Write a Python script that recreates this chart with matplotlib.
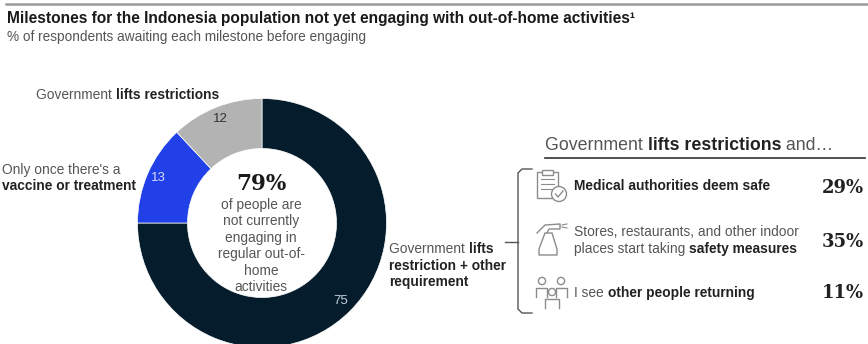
import matplotlib
matplotlib.use('Agg')
import matplotlib.pyplot as plt
from matplotlib.patches import Circle, Rectangle, Polygon

plt.rcParams['font.family'] = ['Liberation Sans', 'DejaVu Sans']

W, H = 868, 344

segments = [75, 13, 12]
segment_labels = ['75', '13', '12']
segment_colors = ['#051c2c', '#2140e8', '#b3b3b3']
center_value = '79%'
center_lines = ['of people are', 'not currently', 'engaging in', 'regular out-of-', 'home', 'activities']
rows = [
    [[('Medical authorities deem safe', True)]],
    [[('Stores, restaurants, and other indoor', False)],
     [('places start taking ', False), ('safety measures', True)]],
    [[('I see ', False), ('other people returning', True)]],
]
row_values = ['29%', '35%', '11%']

GREY = '#555555'
DARK = '#222222'
BODY = 9.9


def Y(y):  # pixel rows counted from the top
    return H - y


def mixed_text(ax, x, y, parts, size, color=DARK):
    # lay out regular and bold runs one after the other on a line
    renderer = ax.figure.canvas.get_renderer()
    for txt, bold in parts:
        t = ax.text(x, Y(y), txt, fontsize=size, va='center', ha='left',
                    color=DARK if bold else color,
                    fontweight='bold' if bold else 'normal')
        x += t.get_window_extent(renderer).width
    return x


def draw_clipboard(ax, c):
    ax.add_patch(Rectangle((537, Y(198)), 21, 26, fill=False, ec=c, lw=1))
    ax.add_patch(Rectangle((542, Y(175)), 11, 5, fc='white', ec=c, lw=1))
    for y in [179, 184, 189]:
        ax.plot([541, 554], [Y(y), Y(y)], color=c, lw=0.8)
    ax.add_patch(Circle((559, Y(194)), 7.5, fc='white', ec=c, lw=1, zorder=3))
    ax.plot([555.5, 558, 563], [Y(194), Y(197), Y(191)], color=c, lw=1, zorder=4)


def draw_spray(ax, c):
    ax.add_patch(Polygon([(545, Y(233)), (552, Y(233)), (557, Y(249)), (557, Y(255)),
                          (539, Y(255)), (539, Y(249))], fill=False, ec=c, lw=1))
    ax.plot([537, 545, 560, 560, 549, 547], [Y(233), Y(225), Y(224), Y(229), Y(229), Y(233)], color=c, lw=1)
    ax.plot([562, 567], [Y(225), Y(224)], color=c, lw=0.8)
    ax.plot([562, 567], [Y(227), Y(228)], color=c, lw=0.8)


def draw_person(ax, cx, cy, left, right, bottom, c):
    # head plus a shoulder outline running down to the given row
    ax.add_patch(Circle((cx, Y(cy)), 3.6, fill=False, ec=c, lw=1))
    ax.plot([left, left, right, right], [Y(bottom), Y(cy + 7), Y(cy + 7), Y(bottom)], color=c, lw=1)


fig = plt.figure(figsize=(W / 100, H / 100), dpi=100)
ax = fig.add_axes([0, 0, 1, 1])

wedges, _ = ax.pie(segments, colors=segment_colors, startangle=90, counterclock=False,
                   radius=124.5, center=(262, Y(223)),
                   wedgeprops=dict(width=50, edgecolor='white', linewidth=0.5))
ax.set_xlim(0, W)
ax.set_ylim(0, H)
ax.set_aspect('auto')
ax.axis('off')

# header
ax.plot([6, W], [Y(4), Y(4)], color='#9a9a9a', lw=1.8)
ax.text(7, Y(19), 'Milestones for the Indonesia population not yet engaging with out-of-home activities¹',
        fontsize=11.2, fontweight='bold', color='#1a1a1a', va='center')
ax.text(7, Y(37), '% of respondents awaiting each milestone before engaging',
        fontsize=9.8, color=GREY, va='center')

# segment values
ax.text(341, Y(301), segment_labels[0], fontsize=9.5, color='#c4d2dc', ha='center', va='center')
ax.text(158, Y(178), segment_labels[1], fontsize=9.5, color='#d5dcff', ha='center', va='center')
ax.text(220, Y(119), segment_labels[2], fontsize=9.5, color='#333333', ha='center', va='center')

# segment callouts
mixed_text(ax, 36, 95, [('Government ', False), ('lifts restrictions', True)], BODY, GREY)
mixed_text(ax, 2, 170, [("Only once there's a", False)], BODY, GREY)
mixed_text(ax, 2, 186, [('vaccine or treatment', True)], BODY)
mixed_text(ax, 389, 249, [('Government ', False), ('lifts', True)], BODY, GREY)
mixed_text(ax, 389, 266, [('restriction + other', True)], BODY)
mixed_text(ax, 389, 282, [('requirement', True)], BODY)

# donut centre
ax.text(261, Y(184), center_value, fontsize=15.5, fontweight='bold', family='DejaVu Serif',
        color='#1a1a1a', ha='center', va='center')
for i, line in enumerate(center_lines):
    ax.text(261, Y(205 + i * 16.4), line, fontsize=BODY, color=GREY, ha='center', va='center')

# right panel
mixed_text(ax, 545, 145, [('Government ', False), ('lifts restrictions', True), (' and…', False)], 12.8, GREY)
ax.plot([545, 865], [Y(158), Y(158)], color='#333333', lw=1.2)

# bracket
bc = '#555555'
ax.plot([532, 522, 518, 518, 522, 532],
        [Y(169), Y(169), Y(173), Y(309), Y(313), Y(313)], color=bc, lw=1)
ax.plot([505, 518], [Y(242), Y(242)], color=bc, lw=1)

# row icons
ic = '#8c8c8c'
draw_clipboard(ax, ic)
draw_spray(ax, ic)
draw_person(ax, 542, 281, 536, 547, 297, ic)
draw_person(ax, 561, 281, 556, 567, 297, ic)
draw_person(ax, 552, 292, 545, 559, 308, ic)

# row text and values
row_y = [[186], [232, 249], [293]]
for lines, ys in zip(rows, row_y):
    for parts, y in zip(lines, ys):
        mixed_text(ax, 574, y, parts, BODY, GREY)

value_y = [188, 242, 293]
for val, y in zip(row_values, value_y):
    ax.text(864, Y(y), val, fontsize=13, fontweight='bold', family='DejaVu Serif',
            color='#222222', ha='right', va='center')

fig.savefig('out.png', dpi=100, facecolor='white')
